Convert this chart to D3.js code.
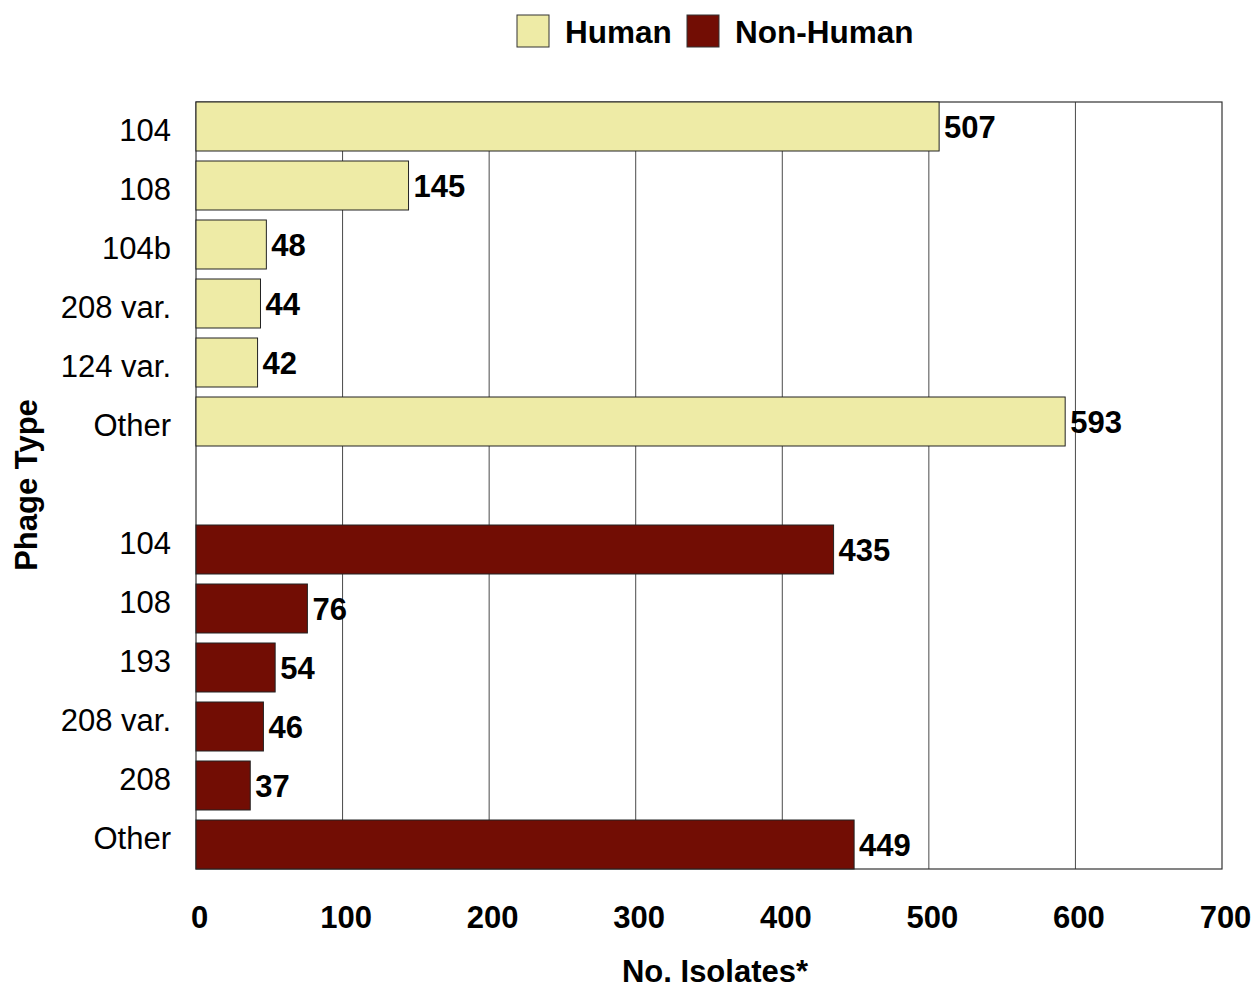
<!DOCTYPE html>
<html>
<head>
<meta charset="utf-8">
<script src="https://cdn.jsdelivr.net/npm/d3@7"></script>
<style>
  html, body { margin: 0; padding: 0; background: #ffffff; }
  svg { display: block; font-family: "Liberation Sans", Arial, sans-serif; }
</style>
</head>
<body>
<svg id="chart" width="1253" height="989"></svg>
<script>
// Phage type counts by source
const humanTypes = ["104", "108", "104b", "208 var.", "124 var.", "Other"];
const humanCounts = [507, 145, 48, 44, 42, 593];
const nonHumanTypes = ["104", "108", "193", "208 var.", "208", "Other"];
const nonHumanCounts = [435, 76, 54, 46, 37, 449];
const seriesNames = ["Human", "Non-Human"];
const seriesColors = ["#eeeba6", "#720d04"];
const xTicks = [0, 100, 200, 300, 400, 500, 600, 700];

const humanRows = humanTypes.map((t, i) => ({ key: "h" + i, label: t, value: humanCounts[i], series: 0 }));
const nonHumanRows = nonHumanTypes.map((t, i) => ({ key: "n" + i, label: t, value: nonHumanCounts[i], series: 1 }));
// Label rows: the two groups separated by one blank row
const labelRows = [...humanRows, { key: "gap", label: "" }, ...nonHumanRows];

const svg = d3.select("#chart");
const plot = { left: 196, right: 1222, top: 102, bottom: 869 };

const x = d3.scaleLinear().domain([0, 700]).range([plot.left, plot.right]);

// Each group gets its own band scale; blank space sits between them
const pad = 10 / 59;
const yHuman = d3.scaleBand().domain(humanRows.map(d => d.key))
  .range([plot.top, 446]).paddingInner(pad).paddingOuter(0);
const yNonHuman = d3.scaleBand().domain(nonHumanRows.map(d => d.key))
  .range([525, plot.bottom]).paddingInner(pad).paddingOuter(0);
const yBar = d => (d.series === 0 ? yHuman : yNonHuman)(d.key);
const bandH = yHuman.bandwidth();

// Category labels are spread evenly over all 13 rows
const yLabel = d3.scaleBand().domain(labelRows.map(d => d.key))
  .range([plot.top, plot.bottom]).padding(0);

// Vertical grid lines
svg.append("g")
  .selectAll("line")
  .data(xTicks.slice(1, -1))
  .join("line")
  .attr("x1", d => x(d)).attr("x2", d => x(d))
  .attr("y1", plot.top).attr("y2", plot.bottom)
  .attr("stroke", "#4a4a4a")
  .attr("stroke-width", 1);

// Plot frame
svg.append("rect")
  .attr("x", plot.left).attr("y", plot.top)
  .attr("width", plot.right - plot.left).attr("height", plot.bottom - plot.top)
  .attr("fill", "none")
  .attr("stroke", "#333")
  .attr("stroke-width", 1.2);

const data = [...humanRows, ...nonHumanRows];

// Bars
svg.append("g")
  .selectAll("rect")
  .data(data)
  .join("rect")
  .attr("x", x(0))
  .attr("y", d => yBar(d))
  .attr("width", d => x(d.value) - x(0))
  .attr("height", bandH)
  .attr("fill", d => seriesColors[d.series])
  .attr("stroke", "#222")
  .attr("stroke-width", 1);

// Value labels
svg.append("g")
  .selectAll("text")
  .data(data)
  .join("text")
  .attr("x", d => x(d.value) + 5)
  .attr("y", d => yBar(d) + bandH / 2 + 1)
  .attr("dy", "0.35em")
  .attr("font-size", 31)
  .attr("font-weight", "bold")
  .attr("fill", "#000")
  .text(d => d.value);

// Category axis labels
const yAxis = d3.axisLeft(yLabel)
  .tickSize(0)
  .tickPadding(25)
  .tickFormat(k => labelRows.find(r => r.key === k).label);
const yg = svg.append("g").attr("transform", `translate(${plot.left},0)`).call(yAxis);
yg.select(".domain").remove();
yg.selectAll("text")
  .attr("font-size", 31)
  .attr("font-family", "'Liberation Sans', Arial, sans-serif")
  .attr("fill", "#000");

// Value axis labels
const xAxis = d3.axisBottom(x).tickValues(xTicks).tickSize(0).tickPadding(37);
const xg = svg.append("g").attr("transform", `translate(3,${plot.bottom})`).call(xAxis);
xg.select(".domain").remove();
xg.selectAll("text")
  .attr("font-size", 31)
  .attr("font-weight", "bold")
  .attr("font-family", "'Liberation Sans', Arial, sans-serif")
  .attr("fill", "#000");

// Axis titles
svg.append("text")
  .attr("x", 715).attr("y", 982)
  .attr("text-anchor", "middle")
  .attr("font-size", 31).attr("font-weight", "bold")
  .text("No. Isolates*");

svg.append("text")
  .attr("transform", "translate(37,485) rotate(-90)")
  .attr("text-anchor", "middle")
  .attr("font-size", 31).attr("font-weight", "bold")
  .text("Phage Type");

// Legend
const legend = svg.append("g");
const legendItems = [
  { name: seriesNames[0], color: seriesColors[0], x: 517, tx: 565 },
  { name: seriesNames[1], color: seriesColors[1], x: 687, tx: 735 }
];
legend.selectAll("rect")
  .data(legendItems)
  .join("rect")
  .attr("x", d => d.x).attr("y", 15)
  .attr("width", 32).attr("height", 32)
  .attr("fill", d => d.color)
  .attr("stroke", "#333").attr("stroke-width", 1);
legend.selectAll("text")
  .data(legendItems)
  .join("text")
  .attr("x", d => d.tx).attr("y", 32)
  .attr("dy", "0.35em")
  .attr("font-size", 31.5).attr("font-weight", "bold")
  .text(d => d.name);
</script>
</body>
</html>
